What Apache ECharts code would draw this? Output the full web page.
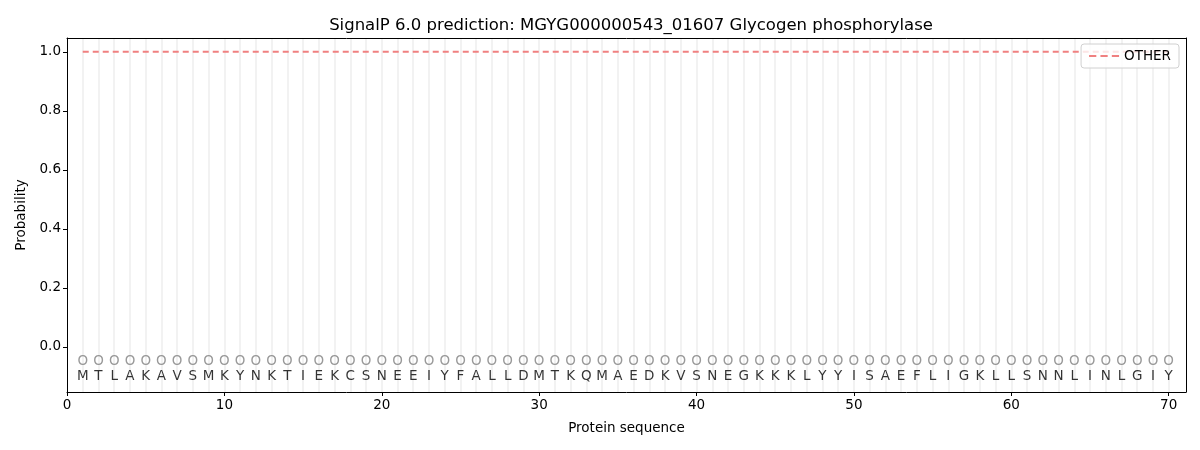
<!DOCTYPE html>
<html><head><meta charset="utf-8">
<script src="https://cdn.jsdelivr.net/npm/echarts@6/dist/echarts.min.js"></script>
<style>html,body{margin:0;padding:0;background:#fff}#c{width:1200px;height:450px}</style>
</head><body><div id="c"></div>
<script>
const sequence = ['M','T','L','A','K','A','V','S','M','K','Y','N','K','T','I','E','K','C','S','N','E','E','I','Y','F','A','L','L','D','M','T','K','Q','M','A','E','D','K','V','S','N','E','G','K','K','K','L','Y','Y','I','S','A','E','F','L','I','G','K','L','L','S','N','N','L','I','N','L','G','I','Y'];
const predLabels = sequence.map(() => 'O');
const otherProb = sequence.map(() => 1.0);
const xTicks = [0,10,20,30,40,50,60,70];
const yTicks = [0,0.2,0.4,0.6,0.8,1.0];

const positions = sequence.map((_, i) => i + 1);
const font = 'DejaVu Sans';
const chart = echarts.init(document.getElementById('c'));
chart.setOption({
  animation: false,
  title: {text: 'SignalP 6.0 prediction: MGYG000000543_01607 Glycogen phosphorylase', left: 626, textAlign: 'center', top: 12,
    textStyle: {fontFamily: font, fontSize: 16.5, fontWeight: 'normal', color: '#000'}},
  grid: {left: 67, right: 14, top: 38, bottom: 58},
  legend: {right: 21, top: 44, itemWidth: 30, itemHeight: 10, itemGap: 8, z: 10,
    data: [{name: 'OTHER', icon: 'path://M0,4h7v2h-7z M11,4h7v2h-7z M22,4h7v2h-7z'}],
    backgroundColor: 'rgba(255,255,255,0.8)',
    borderColor: '#d0d0d0', borderWidth: 1, borderRadius: 3, padding: [5, 8, 5, 8],
    textStyle: {fontFamily: font, fontSize: 13.5, color: '#000'}},
  xAxis: [{
    type: 'value', min: 0, max: 71.1,
    name: 'Protein sequence', nameLocation: 'middle', nameGap: 29,
    nameTextStyle: {fontFamily: font, fontSize: 13.5, color: '#000'},
    axisLine: {onZero: false, lineStyle: {color: '#000'}},
    axisTick: {customValues: xTicks, length: 4, lineStyle: {color: '#000'}},
    axisLabel: {customValues: xTicks, fontFamily: font, fontSize: 13.5, color: '#000', margin: 6},
    splitLine: {show: false}
  }, {
    type: 'value', min: 0, max: 71.1, position: 'top',
    axisLine: {show: true, onZero: false, lineStyle: {color: '#000'}}, axisTick: {show: false}, axisLabel: {show: false},
    splitLine: {show: false}
  }],
  yAxis: [{
    type: 'value', min: -0.153, max: 1.047,
    name: 'Probability', nameLocation: 'middle', nameGap: 38,
    nameTextStyle: {fontFamily: font, fontSize: 13.5, color: '#000'},
    axisLine: {show: true, onZero: false, lineStyle: {color: '#000'}},
    axisTick: {show: true, customValues: yTicks, length: 4, lineStyle: {color: '#000'}},
    axisLabel: {customValues: yTicks, fontFamily: font, fontSize: 13.5, color: '#000', margin: 6,
      formatter: v => v.toFixed(1)},
    splitLine: {show: false}
  }, {
    type: 'value', min: -0.153, max: 1.047, position: 'right',
    axisLine: {show: true, onZero: false, lineStyle: {color: '#000'}}, axisTick: {show: false}, axisLabel: {show: false},
    splitLine: {show: false}
  }],
  series: [
    {
      type: 'line', name: 'grid', xAxisIndex: 0, yAxisIndex: 0, data: [], silent: true, z: 0, zlevel: 0,
      markLine: {silent: true, symbol: 'none', label: {show: false}, z: 0,
        lineStyle: {color: '#f2f2f2', width: 2, type: 'solid'},
        data: positions.map(p => ({xAxis: p}))}
    },
    {
      type: 'line', name: 'OTHER', data: positions.map((p, i) => [p, otherProb[i]]),
      showSymbol: false, symbol: 'none',
      lineStyle: {color: '#f08080', width: 2, type: [6, 4]},
      itemStyle: {color: '#f08080'}, z: 3
    },
    {
      type: 'scatter', name: 'pred', data: positions.map((p, i) => [p, -0.05, predLabels[i]]),
      symbolSize: 0, silent: true, z: 5,
      label: {show: true, position: 'inside', formatter: d => d.value[2],
        fontFamily: font, fontSize: 13.5, color: '#808080'},
      labelLayout: {hideOverlap: false}
    },
    {
      type: 'scatter', name: 'seq', data: positions.map((p, i) => [p, -0.1, sequence[i]]),
      symbolSize: 0, silent: true, z: 5,
      label: {show: true, position: 'inside', formatter: d => d.value[2],
        fontFamily: font, fontSize: 13.5, color: '#000'},
      labelLayout: {hideOverlap: false}
    }
  ]
});
</script></body></html>
